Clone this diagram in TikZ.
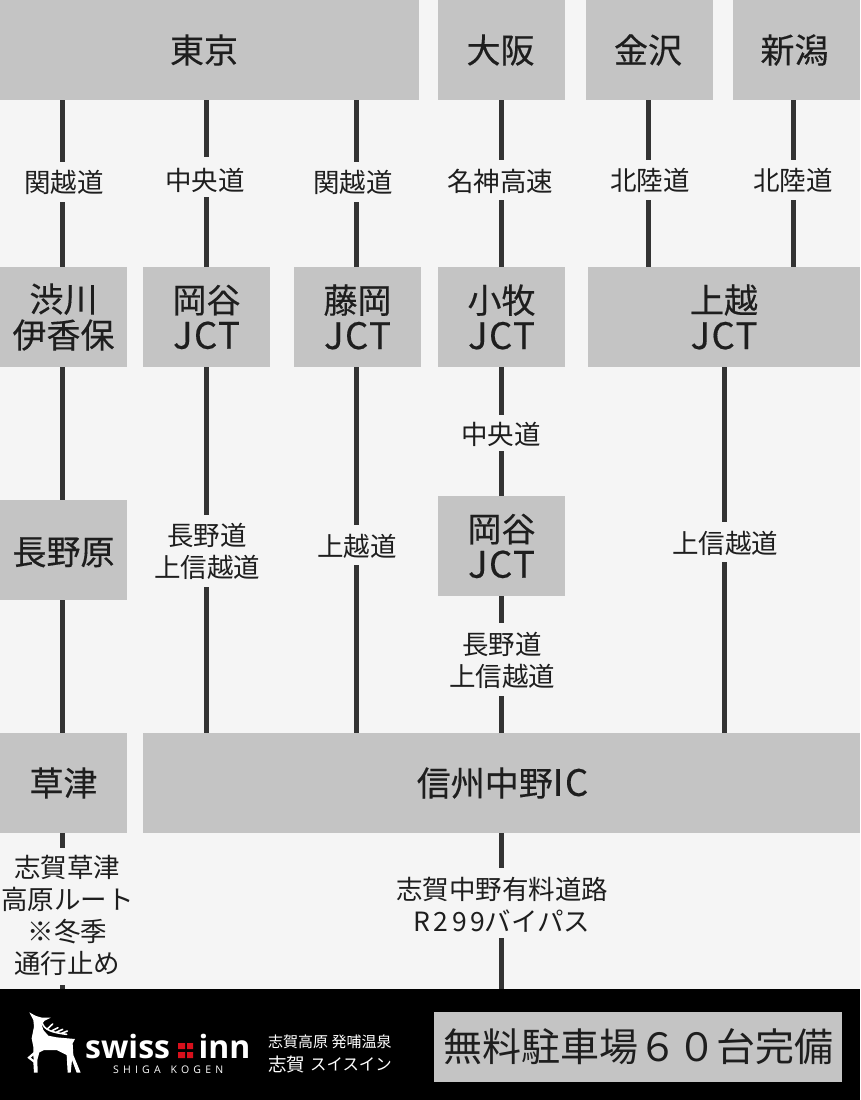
\documentclass[tikz,border=0pt]{standalone}
\usepackage{fontspec}
\setmainfont{Noto Sans CJK JP}
\newfontfamily\jpb[FakeBold=0.35]{Noto Sans CJK JP}
\newfontfamily\jpl[FakeBold=0.35,LetterSpace=4]{Noto Sans CJK JP}
\newfontfamily\jpr{Noto Sans CJK JP}
\newfontfamily\jprl[LetterSpace=13]{Noto Sans CJK JP}
\newfontfamily\logob{Open Sans}[BoldFont=* Bold]
\newfontfamily\logos[LetterSpace=40]{Open Sans}
\definecolor{bgc}{HTML}{F5F5F5}
\definecolor{boxc}{HTML}{C4C4C4}
\definecolor{linec}{HTML}{333333}
\definecolor{txtc}{HTML}{1E1E1E}
\definecolor{redc}{HTML}{D8101C}
\tikzset{
 boxn/.style={fill=boxc,text=txtc,inner sep=0pt,align=center,font=\jpb\fontsize{34}{36}\selectfont},
 lab/.style={text=txtc,inner sep=0pt,align=center,font=\jpr\fontsize{26.5}{32}\selectfont},
 conn/.style={draw=linec,line width=5pt},
 redsq/.style={fill=redc},
 sidetext/.style={text=white,inner sep=0pt,anchor=west},
 logotext/.style={text=white,inner sep=0pt,anchor=base west,font=\logob\bfseries\fontsize{32}{32}\selectfont},
}
\newcommand{\bx}[6]{\node[boxn,minimum width=#4 pt - #2 pt,minimum height=#5 pt - #3 pt] (#1) at ({(#2+#4)/2},{(#3+#5)/2}) {#6};}
\newcommand{\gp}[3]{\fill[bgc] (#1-4,#2) rectangle (#1+4,#3);}
\newcommand{\sh}[1]{\hspace*{#1pt}}
\newcommand{\lt}[1]{{\jpl\fontsize{36.5}{36}\selectfont #1}}
\begin{document}
\begin{tikzpicture}[x=1pt,y=-1pt]
\useasboundingbox (0,0) rectangle (860,1100);
\fill[bgc] (0,0) rectangle (860,1100);
% boxes
\bx{tokyo}{0}{0}{419}{100}{\sh{-11}東京}
\bx{osaka}{438}{0}{565}{100}{\sh{-2}大阪}
\bx{kanazawa}{586}{0}{713}{100}{\sh{-3}金沢}
\bx{niigata}{733}{0}{860}{100}{\sh{-4}新潟}
\bx{shibu}{0}{267}{127}{367}{渋川\\伊香保}
\bx{okaya}{143}{267}{270}{367}{岡谷\\\lt{JCT}}
\bx{fuji}{294}{267}{421}{367}{藤岡\\\lt{JCT}}
\bx{komaki}{438}{267}{565}{367}{小牧\\\lt{JCT}}
\bx{joetsu}{588}{267}{860}{367}{上越\\\lt{JCT}}
\bx{naganohara}{0}{500}{127}{600}{\raisebox{-14.5pt}[0pt][0pt]{長野原}}
\bx{okayab}{438}{496}{565}{596}{岡谷\\\lt{JCT}}
\bx{kusatsu}{0}{733}{127}{833}{草津}
\bx{ic}{143}{733}{860}{833}{\sh{2}信州中野\lt{IC}}
\node[fill=black,minimum width=860pt,minimum height=111pt,inner sep=0pt] (footer) at (430,1044.5) {};
% connectors
\coordinate (xa) at (62.5,0);
\coordinate (xb) at (206,0);
\coordinate (xc) at (356.5,0);
\coordinate (xd) at (501,0);
\coordinate (xe) at (648,0);
\coordinate (xf) at (793,0);
\coordinate (xg) at (724,0);
\draw[conn] (xa |- tokyo.south) -- (xa |- shibu.north);
\draw[conn] (xb |- tokyo.south) -- (xb |- okaya.north);
\draw[conn] (xc |- tokyo.south) -- (xc |- fuji.north);
\draw[conn] (xd |- osaka.south) -- (xd |- komaki.north);
\draw[conn] (xe |- kanazawa.south) -- (xe |- joetsu.north);
\draw[conn] (xf |- niigata.south) -- (xf |- joetsu.north);
\draw[conn] (xa |- shibu.south) -- (xa |- naganohara.north);
\draw[conn] (xa |- naganohara.south) -- (xa |- kusatsu.north);
\draw[conn] (xb |- okaya.south) -- (xb |- ic.north);
\draw[conn] (xc |- fuji.south) -- (xc |- ic.north);
\draw[conn] (xd |- komaki.south) -- (xd |- okayab.north);
\draw[conn] (xd |- okayab.south) -- (xd |- ic.north);
\draw[conn] (xg |- joetsu.south) -- (xg |- ic.north);
\draw[conn] (xa |- kusatsu.south) -- (xa |- footer.north);
\draw[conn] (xd |- ic.south) -- (xd |- footer.north);
% gaps in the lines behind the labels
\gp{62.5}{162}{202}\gp{206}{157}{197}\gp{356.5}{162}{202}\gp{501}{160}{200}\gp{648}{160}{200}\gp{793}{160}{200}
\gp{501}{415}{451}\gp{206}{515}{587}\gp{356.5}{525}{565}\gp{724}{522}{562}\gp{501}{623}{696}
\gp{62.5}{848}{985}\gp{501}{868}{938}
% labels
\node[lab] (l1) at (64,182) {関越道};
\node[lab] (l2) at (205,180) {中央道};
\node[lab] (l3) at (353,182) {関越道};
\node[lab] (l4) at (500,181) {名神高速};
\node[lab] (l5) at (650,180) {北陸道};
\node[lab] (l6) at (793,180) {北陸道};
\node[lab] (l7) at (501,434) {中央道};
\node[lab] (l8) at (207,551.5) {長野道\\上信越道};
\node[lab] (l9) at (357,546) {上越道};
\node[lab] (l10) at (725,543) {上信越道};
\node[lab] (l11) at (502,660.5) {長野道\\上信越道};
\node[lab] (l12) at (67.5,915.5) {志賀草津\\高原ルート\\※冬季\\通行止め};
\node[lab] (l13) at (502,905) {志賀中野有料道路\\{\jprl\fontsize{26.5}{32}\selectfont R299}バイパス};
% sign
\node[fill=boxc,text=txtc,inner sep=0pt,minimum width=408pt,minimum height=70pt,font=\jpr\fontsize{39}{39}\selectfont] (sign) at (638,1047) {無料駐車場６０台完備};
% logo
\begin{scope}[shift={(20,1005)},scale=1/3]
\fill[white] (28,22) -- (48,33) -- (66,38) -- (92,38) -- (74,47) -- (65,58) -- (70,75) -- (85,92) -- (110,97) -- (165,102) -- (158,115) -- (160,150) -- (182,203) -- (170,203) -- (156,165) -- (152,203) -- (143,203) -- (140,150) -- (110,135) -- (72,135) -- (58,142) -- (52,165) -- (53,203) -- (42,203) -- (40,172) -- (22,158) -- (40,142) -- (40,125) -- (35,100) -- (42,65) -- (40,45) -- cycle;
\fill[black] (40,152) -- (33,158) -- (41,164) -- cycle;
\draw[white,line width=1.6pt,line cap=round] (66,52) .. controls (72,75) and (95,82) .. (140,88) (84,70) -- (98,57) (96,77) -- (114,68) (110,81) -- (128,73) (124,85) -- (142,78);
\end{scope}
\node[logotext] (swiss) at (85,1058) {swiss};
\fill[redsq] (178,1043) rectangle (185,1049) (187,1043) rectangle (193,1049) (178,1052) rectangle (185,1058) (187,1052) rectangle (193,1058);
\node[logotext] (inn) at (198.5,1058) {inn};
\node[text=white,inner sep=0pt,anchor=base west,font=\logos\fontsize{10.5}{11}\selectfont] (kogen) at (113,1073) {SHIGA\hspace{3pt} KOGEN};
\node[sidetext,font=\jpr\fontsize{15}{15}\selectfont] (s1) at (268,1042) {志賀高原 発哺温泉};
\node[sidetext,font=\jpr\fontsize{18.5}{19}\selectfont] (s2) at (268,1064) {志賀};
\node[sidetext,font=\jpr\fontsize{16.4}{17}\selectfont] (s3) at (310,1064) {スイスイン};
\end{tikzpicture}
\end{document}
